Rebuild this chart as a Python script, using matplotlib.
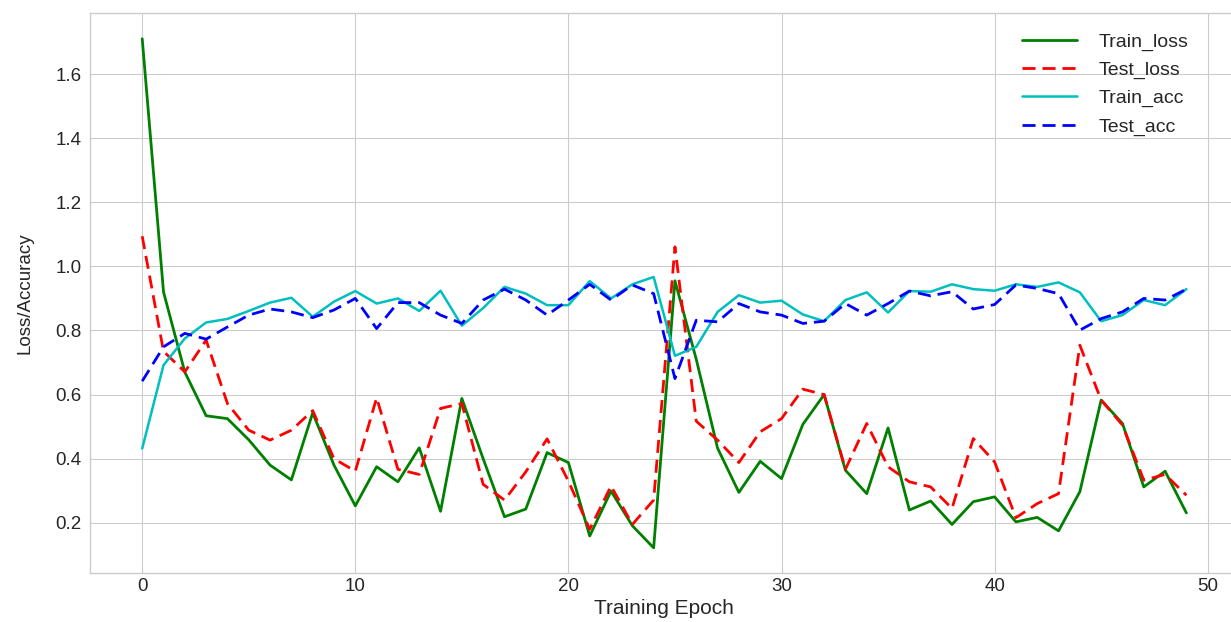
import matplotlib
matplotlib.use('Agg')
import matplotlib.pyplot as plt
import numpy as np

# Werte (Epoche 0..49)
epochs = np.arange(50)

train_loss = [1.71, 0.92, 0.67, 0.534, 0.525, 0.459, 0.38, 0.334, 0.543, 0.38,
              0.253, 0.375, 0.328, 0.434, 0.236, 0.588, 0.40, 0.219, 0.243, 0.419,
              0.388, 0.159, 0.299, 0.191, 0.122, 0.955, 0.71, 0.433, 0.295, 0.392,
              0.338, 0.507, 0.600, 0.364, 0.291, 0.496, 0.240, 0.268, 0.195, 0.266,
              0.281, 0.203, 0.217, 0.175, 0.297, 0.583, 0.510, 0.312, 0.361, 0.231]

test_loss = [1.094, 0.735, 0.671, 0.77, 0.572, 0.489, 0.458, 0.489, 0.55, 0.40,
             0.361, 0.590, 0.367, 0.351, 0.557, 0.572, 0.32, 0.271, 0.359, 0.462,
             0.33, 0.18, 0.315, 0.195, 0.271, 1.061, 0.517, 0.458, 0.388, 0.484,
             0.525, 0.617, 0.600, 0.367, 0.510, 0.375, 0.328, 0.312, 0.245, 0.463,
             0.39, 0.216, 0.26, 0.291, 0.754, 0.583, 0.505, 0.333, 0.351, 0.286]

train_acc = [0.432, 0.692, 0.775, 0.825, 0.836, 0.861, 0.887, 0.902, 0.843, 0.890,
             0.923, 0.884, 0.900, 0.861, 0.924, 0.815, 0.87, 0.936, 0.915, 0.879,
             0.879, 0.954, 0.900, 0.944, 0.967, 0.721, 0.749, 0.858, 0.910, 0.887,
             0.893, 0.850, 0.829, 0.895, 0.919, 0.856, 0.923, 0.921, 0.944, 0.929,
             0.924, 0.944, 0.936, 0.950, 0.919, 0.829, 0.848, 0.895, 0.879, 0.929]

test_acc = [0.642, 0.749, 0.791, 0.773, 0.811, 0.848, 0.867, 0.858, 0.840, 0.864,
            0.900, 0.806, 0.887, 0.887, 0.848, 0.822, 0.895, 0.929, 0.895, 0.848,
            0.895, 0.944, 0.895, 0.942, 0.915, 0.650, 0.832, 0.827, 0.884, 0.858,
            0.848, 0.822, 0.829, 0.884, 0.848, 0.884, 0.923, 0.908, 0.921, 0.867,
            0.881, 0.942, 0.931, 0.915, 0.801, 0.837, 0.858, 0.900, 0.895, 0.929]

plt.style.use('seaborn-v0_8-whitegrid')
plt.rcParams['font.family'] = ['Liberation Sans', 'DejaVu Sans']

W, H = 1231, 622
fig = plt.figure(figsize=(W / 100, H / 100), dpi=100)
# Achse reicht rechts etwas ueber den Bildrand hinaus (wie im Original)
ax = fig.add_axes([90 / W, (H - 573.3) / H, (1238.6 - 90) / W, (573.3 - 13.3) / H])

dash = (0, (4.7, 2.5))
ax.plot(epochs, train_loss, color='g', lw=2, label='Train_loss')
ax.plot(epochs, test_loss, color='r', lw=2, linestyle=dash, label='Test_loss')
ax.plot(epochs, train_acc, color='c', lw=1.8, label='Train_acc')
ax.plot(epochs, test_acc, color='b', lw=2, linestyle=dash, label='Test_acc')

ax.set_xlabel('Training Epoch', fontsize=15, labelpad=3)
ax.set_ylabel('Loss/Accuracy', fontsize=13.5, labelpad=16)
ax.tick_params(labelsize=13.5)
ax.tick_params(axis='y', pad=6)

ax.legend(loc='upper left', bbox_to_anchor=(0.805, 0.979), borderaxespad=0,
          fontsize=14, handlelength=2.83, handletextpad=1.08, labelspacing=0.54)

fig.savefig('out.png', dpi=100)
